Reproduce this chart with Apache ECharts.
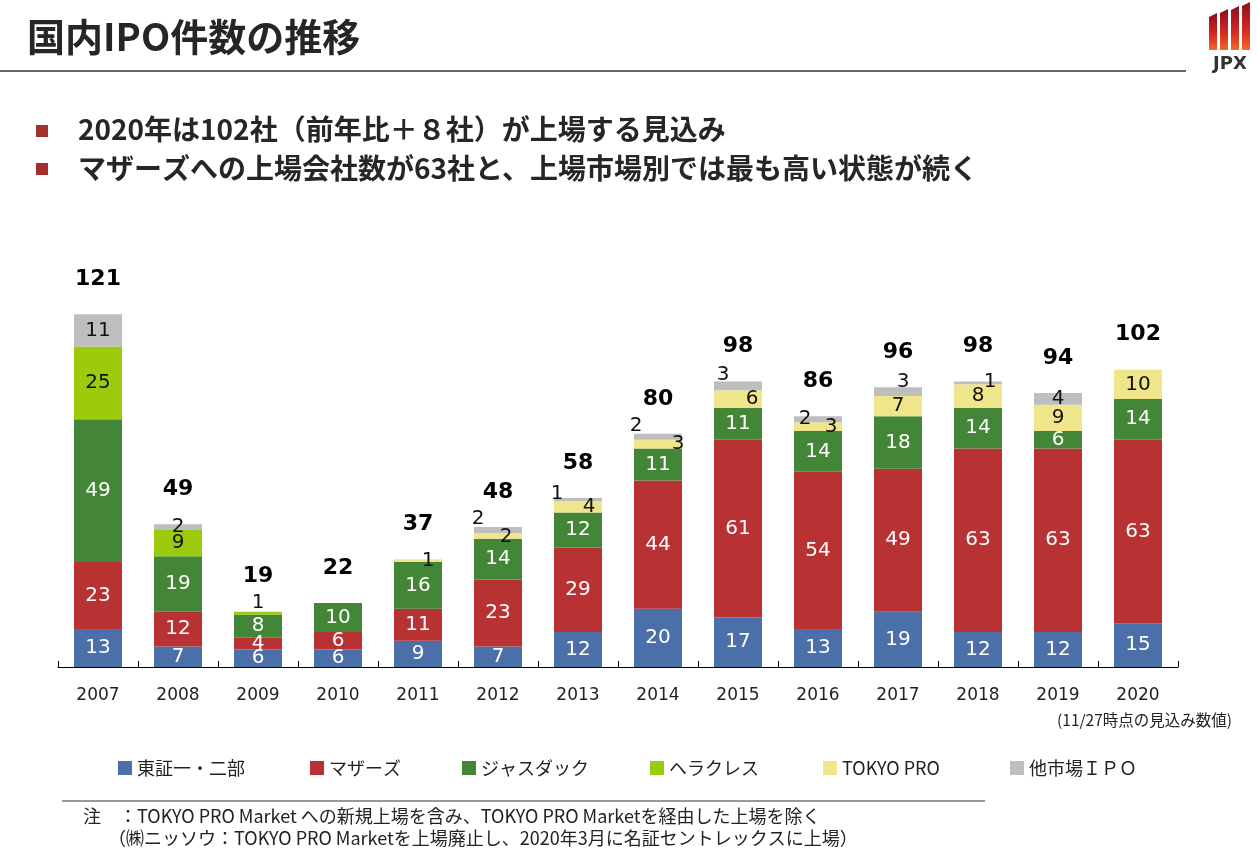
<!DOCTYPE html>
<html>
<head>
<meta charset="utf-8">
<script src="https://cdn.jsdelivr.net/npm/echarts@6/dist/echarts.min.js"></script>
<style>
html,body{margin:0;padding:0;background:#fff;}
#c{width:1258px;height:852px;}
</style>
</head>
<body>
<div id="c"></div>
<script>
const years = ['2007','2008','2009','2010','2011','2012','2013','2014','2015','2016','2017','2018','2019','2020'];
const tosho    = [13, 7, 6, 6, 9, 7,12,20,17,13,19,12,12,15];
const mothers  = [23,12, 4, 6,11,23,29,44,61,54,49,63,63,63];
const jasdaq   = [49,19, 8,10,16,14,12,11,11,14,18,14, 6,14];
const hercules = [25, 9, 1, 0, 0, 0, 0, 0, 0, 0, 0, 0, 0, 0];
const tokyoPro = [ 0, 0, 0, 0, 1, 2, 4, 3, 6, 3, 7, 8, 9,10];
const others   = [11, 2, 0, 0, 0, 2, 1, 2, 3, 2, 3, 1, 4, 0];
const seriesNames = ['東証一・二部','マザーズ','ジャスダック','ヘラクレス','TOKYO PRO','他市場ＩＰＯ'];

// label placement tweaks for thin segments (style only)
const labelOffsets = {
  'ヘラクレス': {'2009':[0,-10]},
  'TOKYO PRO': {'2011':[10,0],'2012':[8,1],'2013':[11,0],'2014':[20,0],'2015':[14,0],'2016':[13,0]},
  '他市場ＩＰＯ': {'2012':[-20,-11],'2013':[-21,-6],'2014':[-22,-11],'2015':[-15,-11],'2016':[-13,0],'2017':[5,-10],'2018':[12,-1]}
};
const colors = ['#4A6FA9','#B83234','#438638','#9CCA0C','#EFE68B','#BEBEBE'];
const labelColors = ['#fff','#fff','#fff','#111','#111','#111'];
const valueSets = [tosho, mothers, jasdaq, hercules, tokyoPro, others];
const totals = years.map((y,i)=>valueSets.reduce((s,a)=>s+a[i],0));

const numFont = '"DejaVu Sans", Verdana, sans-serif';
const jpFont = '"Noto Sans CJK JP", sans-serif';

const chart = echarts.init(document.getElementById('c'));

const barSeries = seriesNames.map((name, k) => ({
  name: name,
  type: 'bar',
  stack: 'ipo',
  barWidth: 48,
  barGap: '-100%',
  itemStyle: {color: colors[k]},
  label: {
    show: true,
    position: 'inside',
    color: labelColors[k],
    fontFamily: numFont,
    fontSize: 20,
    formatter: p => (p.value ? String(p.value) : '')
  },
  emphasis: {disabled: true},
  data: valueSets[k].map((v, i) => {
    const off = labelOffsets[name] && labelOffsets[name][years[i]];
    return off ? {value: v, label: {offset: off}} : v;
  })
}));

const totalSeries = {
  name: '合計',
  type: 'bar',
  barWidth: 48,
  barGap: '-100%',
  itemStyle: {color: 'rgba(0,0,0,0)'},
  label: {
    show: true,
    position: 'top',
    distance: 24,
    color: '#000',
    fontFamily: numFont,
    fontWeight: 'bold',
    fontSize: 22
  },
  emphasis: {disabled: true},
  z: 1,
  data: totals
};

const legendLefts = [118, 310, 462, 650, 823, 1010];
const legends = seriesNames.map((n, k) => ({
  data: [n],
  left: legendLefts[k],
  top: 759,
  icon: 'rect',
  itemWidth: 14,
  itemHeight: 14,
  padding: 0,
  selectedMode: false,
  textStyle: {fontFamily: jpFont, fontSize: 18, color: '#222'}
}));

const stripeX = [1209, 1220, 1231, 1242];
const stripeTop = [13, 9, 6, 2];
const logo = stripeX.map((x, i) => ({
  type: 'polygon',
  shape: {points: [[x, stripeTop[i] + 4], [x + 8, stripeTop[i]], [x + 8, 50], [x, 50]]},
  style: {
    fill: new echarts.graphic.LinearGradient(0, 0, 0, 1, [
      {offset: 0, color: '#8E0E1E'},
      {offset: 0.6, color: '#D62A22'},
      {offset: 1, color: '#F06A2A'}
    ])
  }
}));

const txt = (text, x, y, font, opts) => Object.assign({
  type: 'text',
  style: Object.assign({text: text, x: x, y: y, font: font, fill: '#222', align: 'left', verticalAlign: 'middle'}, opts || {})
});

chart.setOption({
  animation: false,
  backgroundColor: '#fff',
  grid: {left: 58, right: 80, top: 259, bottom: 185},
  legend: legends,
  xAxis: {
    type: 'category',
    data: years,
    axisLine: {lineStyle: {color: '#000', width: 1}},
    axisTick: {show: true, inside: true, length: 6, lineStyle: {color: '#000'}},
    axisLabel: {margin: 20, color: '#222', fontFamily: numFont, fontSize: 17}
  },
  yAxis: {type: 'value', min: 0, max: 140, show: false, splitLine: {show: false}},
  series: barSeries.concat([totalSeries]),
  graphic: [
    txt('国内IPO件数の推移', 27, 37, 'bold 38px ' + jpFont, {fill: '#262626'}),
    {type: 'line', shape: {x1: 0, y1: 71, x2: 1186, y2: 71}, style: {stroke: '#333', lineWidth: 1.5}},
    txt('JPX', 1230, 64, 'bold 18px "DejaVu Sans", sans-serif', {fill: '#333', align: 'center'}),
    {type: 'rect', shape: {x: 36, y: 125, width: 12, height: 12}, style: {fill: '#A3302A'}},
    {type: 'rect', shape: {x: 36, y: 163, width: 12, height: 12}, style: {fill: '#A3302A'}},
    txt('2020年は102社（前年比＋８社）が上場する見込み', 78, 129, 'bold 28px ' + jpFont, {fill: '#262626'}),
    txt('マザーズへの上場会社数が63社と、上場市場別では最も高い状態が続く', 78, 168, 'bold 28px ' + jpFont, {fill: '#262626'}),
    txt('(11/27時点の見込み数値)', 1232, 720, '15.5px ' + jpFont, {fill: '#222', align: 'right'}),
    {type: 'line', shape: {x1: 62, y1: 801, x2: 985, y2: 801}, style: {stroke: '#333', lineWidth: 1}},
    txt('注　：TOKYO PRO Market への新規上場を含み、TOKYO PRO Marketを経由した上場を除く', 83, 816, '18px ' + jpFont),
    txt('（㈱ニッソウ：TOKYO PRO Marketを上場廃止し、2020年3月に名証セントレックスに上場）', 108, 838, '18px ' + jpFont)
  ].concat(logo)
});
</script>
</body>
</html>
